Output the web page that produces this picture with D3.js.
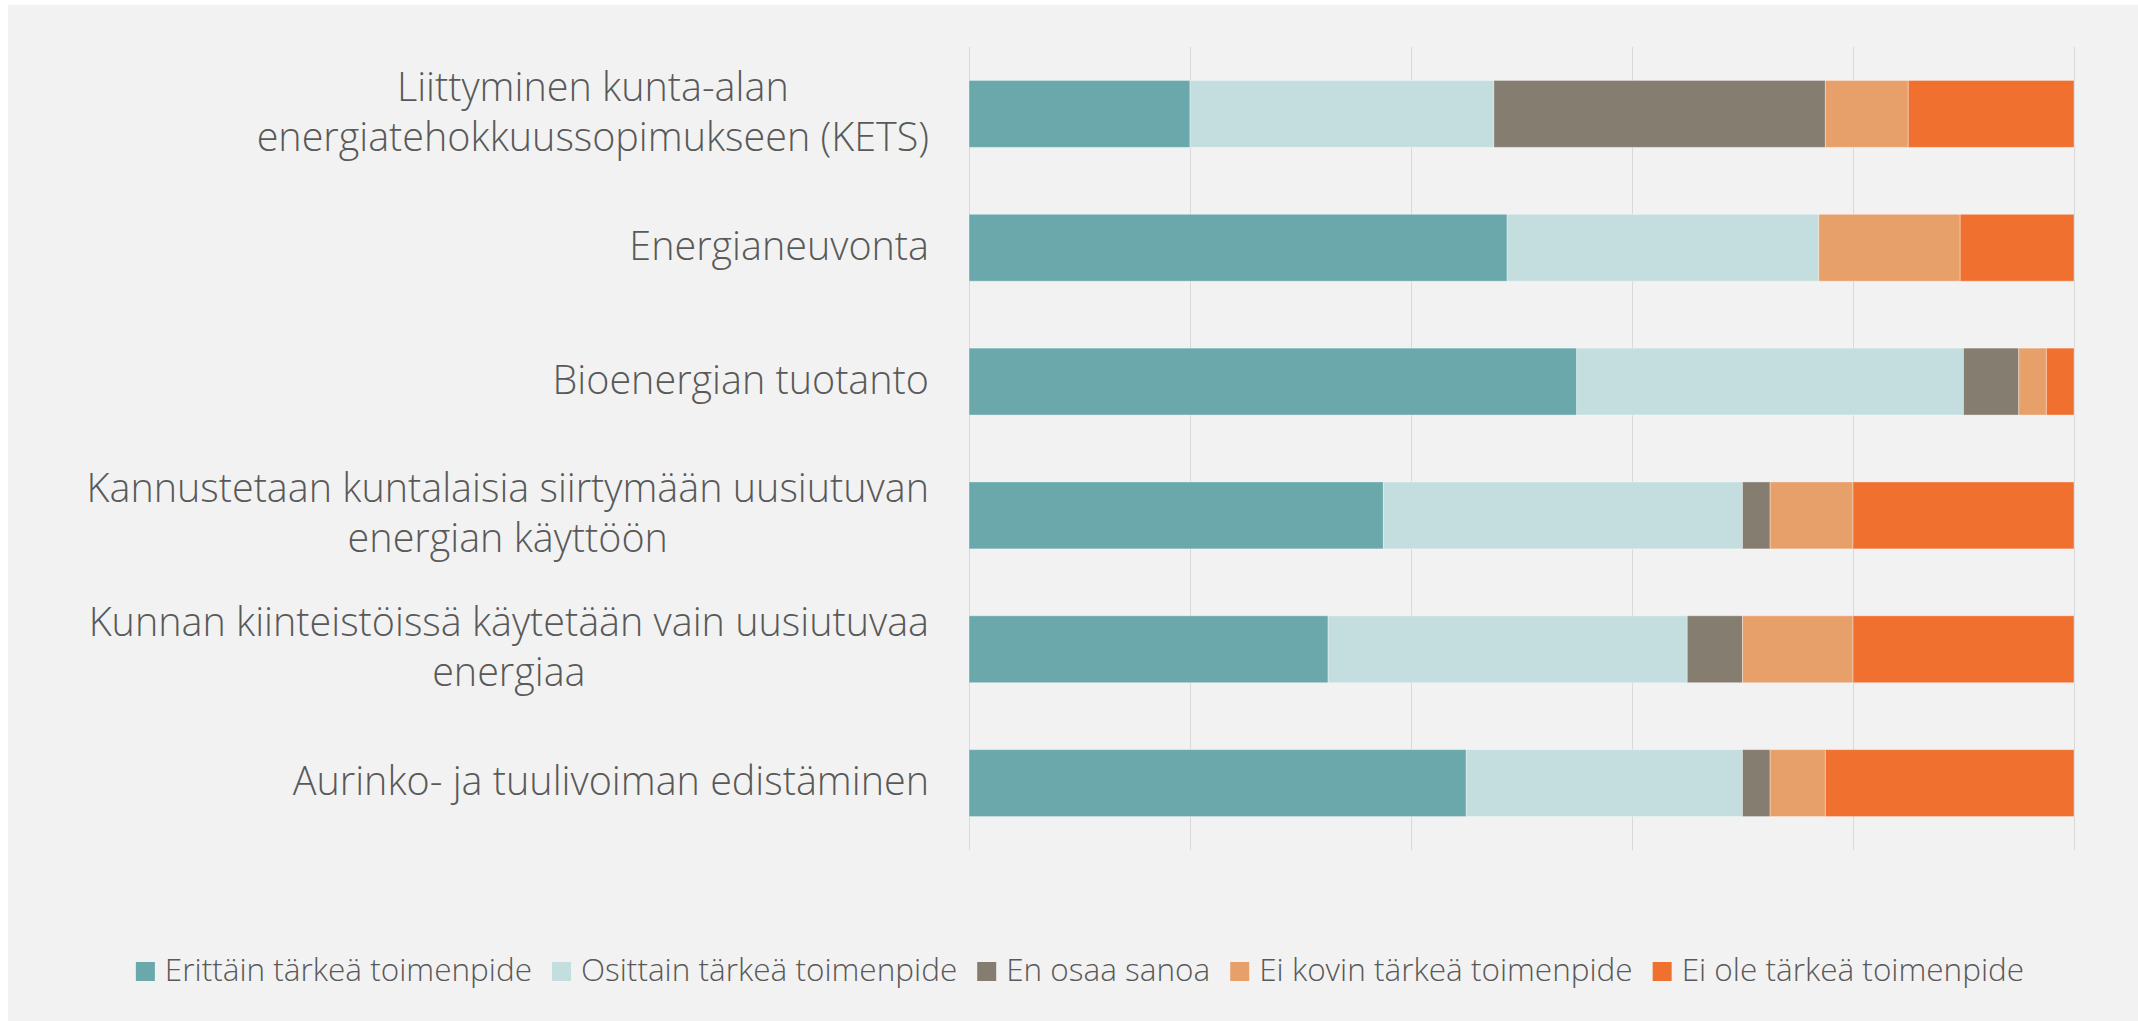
<!DOCTYPE html>
<html>

<head>
    <meta charset="UTF-8" />
    <script src="https://d3js.org/d3.v7.min.js"></script>
    <style>
        body { margin: 0; background: #ffffff; }
        text { font-family: "Open Sans", Roboto, sans-serif; }
    </style>
</head>

<body>
    <script>
        // categories, each label split into its lines
        const categories = [
            ["Liittyminen kunta-alan", "energiatehokkuussopimukseen (KETS)"],
            ["Energianeuvonta"],
            ["Bioenergian tuotanto"],
            ["Kannustetaan kuntalaisia siirtymään uusiutuvan", "energian käyttöön"],
            ["Kunnan kiinteistöissä käytetään vain uusiutuvaa", "energiaa"],
            ["Aurinko- ja tuulivoiman edistäminen"]
        ];
        const seriesNames = [
            "Erittäin tärkeä toimenpide",
            "Osittain tärkeä toimenpide",
            "En osaa sanoa",
            "Ei kovin tärkeä toimenpide",
            "Ei ole tärkeä toimenpide"
        ];
        // shares in percent, one value per category
        const erittain = [20.0, 48.7, 55.0, 37.5, 32.5, 45.0];
        const osittain = [27.5, 28.2, 35.0, 32.5, 32.5, 25.0];
        const enOsaa = [30.0, 0.0, 5.0, 2.5, 5.0, 2.5];
        const eiKovin = [7.5, 12.8, 2.5, 7.5, 10.0, 5.0];
        const eiOle = [15.0, 10.3, 2.5, 20.0, 20.0, 22.5];
        const gridTicks = [0, 20, 40, 60, 80, 100];

        const colors = ["#6aa8ab", "#c4dedf", "#857d70", "#e8a06b", "#f07030"];

        const width = 2138;
        const height = 1021;
        const margin = { top: 47, right: 64, bottom: 171, left: 969 };

        const table = categories.map(function (c, i) {
            return {
                key: c.join(" "),
                lines: c,
                s0: erittain[i], s1: osittain[i], s2: enOsaa[i], s3: eiKovin[i], s4: eiOle[i]
            };
        });

        const svg = d3.select("body")
            .append("svg")
            .attr("width", width)
            .attr("height", height);

        svg.append("rect")
            .attr("x", 8)
            .attr("y", 5)
            .attr("width", width - 8)
            .attr("height", height - 5)
            .attr("fill", "#f2f2f2");

        const x = d3.scaleLinear()
            .domain([0, 100])
            .range([margin.left, width - margin.right]);

        const y = d3.scaleBand()
            .domain(table.map(d => d.key))
            .range([margin.top, height - margin.bottom])
            .paddingInner(0.5)
            .paddingOuter(0.25);

        // vertical grid
        svg.append("g")
            .attr("transform", `translate(0,${height - margin.bottom})`)
            .call(d3.axisBottom(x).tickValues(gridTicks)
                .tickSize(-(height - margin.bottom - margin.top))
                .tickFormat(""))
            .call(g => g.select(".domain").remove())
            .call(g => g.selectAll(".tick line").attr("stroke", "#d9d9d9"));

        const stack = d3.stack().keys(["s0", "s1", "s2", "s3", "s4"]);
        const layers = stack(table);

        svg.append("g")
            .selectAll("g")
            .data(layers)
            .join("g")
            .attr("fill", (d, i) => colors[i])
            .selectAll("rect")
            .data(d => d)
            .join("rect")
            .attr("x", d => x(d[0]))
            .attr("y", d => y(d.data.key))
            .attr("width", d => x(d[1]) - x(d[0]))
            .attr("height", y.bandwidth())
            .attr("stroke", "rgba(255,255,255,0.35)")
            .attr("stroke-width", 1);

        // category labels: block right aligned, lines centred inside it
        const labelRight = 929;
        const lineGap = 50;
        const labels = svg.append("g")
            .attr("fill", "#595959")
            .attr("font-size", 39.5)
            .attr("font-weight", 300);

        table.forEach(function (d) {
            const cy = y(d.key) + y.bandwidth() / 2;
            const g = labels.append("g");
            const texts = g.selectAll("text")
                .data(d.lines)
                .join("text")
                .attr("y", (t, i) => cy + 12 + (i - (d.lines.length - 1) / 2) * lineGap)
                .attr("text-anchor", "middle")
                .text(t => t);
            let maxW = 0;
            texts.each(function () { maxW = Math.max(maxW, this.getComputedTextLength()); });
            texts.attr("x", labelRight - maxW / 2);
        });

        // legend
        const legend = svg.append("g")
            .attr("font-size", 31.5)
            .attr("font-weight", 300)
            .attr("fill", "#595959");
        const items = legend.selectAll("g")
            .data(seriesNames)
            .join("g");
        items.append("rect")
            .attr("y", -19)
            .attr("width", 19)
            .attr("height", 19)
            .attr("fill", (d, i) => colors[i]);
        items.append("text")
            .attr("x", 29)
            .attr("y", 0)
            .text(d => d);
        let pos = 0;
        const offsets = [];
        items.each(function () {
            offsets.push(pos);
            pos += 29 + d3.select(this).select("text").node().getComputedTextLength() + 20;
        });
        const total = pos - 20;
        const legendLeft = 1080 - total / 2;
        items.attr("transform", (d, i) => `translate(${legendLeft + offsets[i]},981)`);
    </script>
</body>

</html>
